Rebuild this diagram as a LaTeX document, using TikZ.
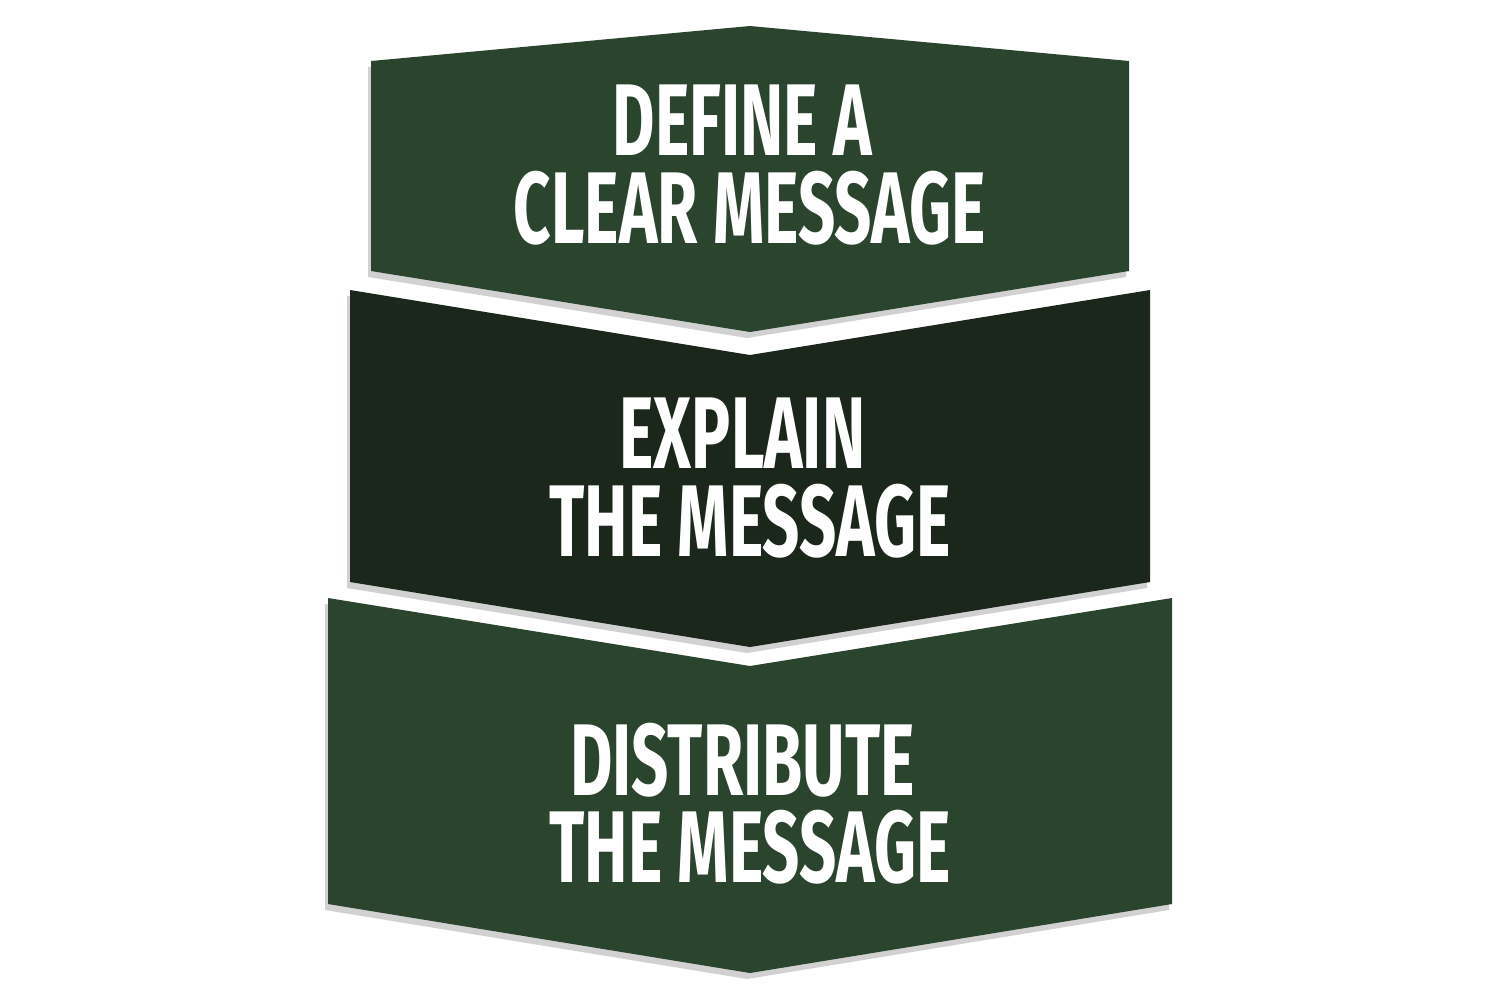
\documentclass[tikz,border=0pt]{standalone}
\usepackage{fontspec}
\newfontfamily\stepfont[FakeStretch=0.64]{Fira Sans}
\usetikzlibrary{shadows}
\definecolor{leafgreen}{HTML}{2B442D}
\definecolor{darkleaf}{HTML}{1A271A}
\begin{document}
\begin{tikzpicture}[x=0.1mm, y=-0.1mm, line join=round,
    plate/.style={fill=#1, drop shadow={shadow xshift=-0.3mm, shadow yshift=-0.6mm, fill=black!60, opacity=0.3}},
    steptext/.style={text=white, align=center, inner sep=0pt, font=\stepfont\bfseries\fontsize{29}{24.8}\selectfont}]
      \useasboundingbox (0,0) rectangle (1500,1000);

      % define
      \coordinate (d1) at (371,61);
      \coordinate (d2) at (750,26);
      \coordinate (d3) at (1129,61);
      \coordinate (d4) at (1129,271);
      \coordinate (d5) at (750,332);
      \coordinate (d6) at (371,271);
      % explain
      \coordinate (e1) at (350,290);
      \coordinate (e2) at (750,355);
      \coordinate (e3) at (1150,290);
      \coordinate (e4) at (1150,582);
      \coordinate (e5) at (750,647);
      \coordinate (e6) at (350,582);
      % distribute
      \coordinate (s1) at (328,598);
      \coordinate (s2) at (750,666);
      \coordinate (s3) at (1172,598);
      \coordinate (s4) at (1172,904);
      \coordinate (s5) at (750,973);
      \coordinate (s6) at (328,904);

      \path [plate=leafgreen] (s1) -- (s2) -- (s3) -- (s4) -- (s5) -- (s6) -- cycle;
      \path [plate=darkleaf] (e1) -- (e2) -- (e3) -- (e4) -- (e5) -- (e6) -- cycle;
      \path [plate=leafgreen] (d1) -- (d2) -- (d3) -- (d4) -- (d5) -- (d6) -- cycle;

      \node[steptext] (define) at (750,165) {DEFINE A\kern1.5mm\\CLEAR MESSAGE};
      \node[steptext] (explain) at (750,478) {EXPLAIN\kern1.5mm\\THE MESSAGE};
      \node[steptext] (distribute) at (750,804) {DISTRIBUTE\kern1.5mm\\THE MESSAGE};
    \end{tikzpicture}
\end{document}
